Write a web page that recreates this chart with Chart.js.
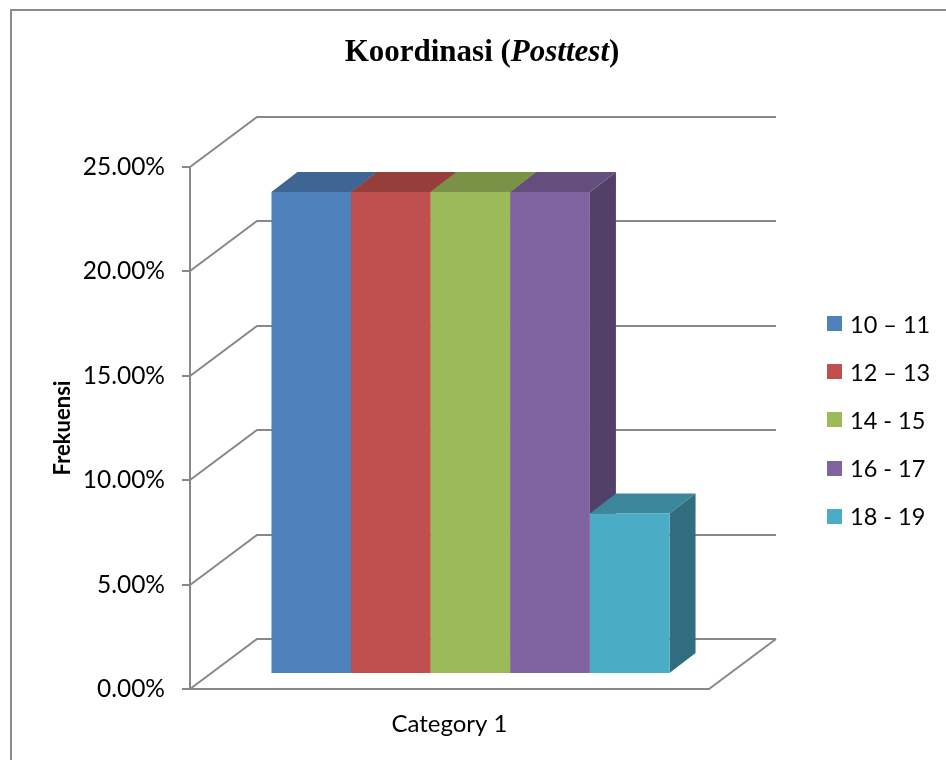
<!DOCTYPE html>
<html><head><meta charset="utf-8">
<script src="https://cdn.jsdelivr.net/npm/chart.js@4"></script>
<style>
html,body{margin:0;padding:0;background:#fff;overflow:hidden;}
#wrap{position:relative;width:946px;height:760px;}
#frame{position:absolute;left:10px;top:9px;width:960px;height:790px;border:2px solid #8c8c8c;box-sizing:border-box;}
#c{position:absolute;left:0;top:0;}
#title{position:absolute;left:9px;width:946px;top:33px;text-align:center;font-family:"Liberation Serif","Times New Roman",serif;font-weight:bold;font-size:31px;line-height:36px;color:#000;}
#legend{position:absolute;left:827px;top:0;font-family:Lato,sans-serif;font-size:23.5px;color:#000;}
#legend .it{position:absolute;left:0;height:30px;display:flex;align-items:center;white-space:nowrap;}
#legend .sw{display:inline-block;width:15px;height:15px;margin-right:8px;}
</style>
</head><body>
<div id="wrap">
<div id="frame"></div>
<canvas id="c" width="946" height="760"></canvas>
<div id="title">Koordinasi (<i>Posttest</i>)</div>
<div id="legend"></div>
</div>
<script>
// ---- data ----
const categories = ['Category 1'];
const seriesNames = ['10 – 11', '12 – 13', '14 - 15', '16 - 17', '18 - 19'];
const seriesValues = [
  [0.2308],
  [0.2308],
  [0.2308],
  [0.2308],
  [0.0769]
];
const yTickLabels = ['0.00%', '5.00%', '10.00%', '15.00%', '20.00%', '25.00%'];
const yAxisTitle = 'Frekuensi';

// ---- styles ----
const palette = ['#4F81BD', '#C0504D', '#9BBB59', '#8064A2', '#4BACC6'];
const lineColor = '#888888';

function shade(hex, f) {
  const n = parseInt(hex.slice(1), 16);
  const r = Math.round(((n >> 16) & 255) * f), g = Math.round(((n >> 8) & 255) * f), b = Math.round((n & 255) * f);
  return `rgb(${r},${g},${b})`;
}

// legend (HTML, real text)
const legendEl = document.getElementById('legend');
const legendTops = [323.5, 371.7, 419.9, 468.1, 516.3];
seriesNames.forEach((name, i) => {
  const d = document.createElement('div');
  d.className = 'it';
  d.style.top = (legendTops[i] - 15) + 'px';
  d.innerHTML = `<span class="sw" style="background:${palette[i]}"></span><span>${name}</span>`;
  legendEl.appendChild(d);
});

const WALL_DX = 67, WALL_DY = -50;   // full depth of the 3D walls
const BAR_DX = 21, BAR_DY = -15;     // bar front plane offset
const BAR_DEPTH_X = 26, BAR_DEPTH_Y = -20;

const threeD = {
  id: 'threeD',
  beforeDatasetsDraw(chart) {
    const ctx = chart.ctx;
    const y = chart.scales.y, area = chart.chartArea;
    ctx.save();
    ctx.strokeStyle = lineColor;
    ctx.lineWidth = 2;
    ctx.lineCap = 'butt';
    y.ticks.forEach(t => {
      const py = Math.round(y.getPixelForValue(t.value));
      ctx.beginPath();
      ctx.moveTo(area.left, py);
      ctx.lineTo(area.left + WALL_DX, py + WALL_DY);
      ctx.lineTo(area.right + WALL_DX, py + WALL_DY);
      ctx.stroke();
    });
    const p0 = Math.round(y.getPixelForValue(0));
    ctx.beginPath();
    ctx.moveTo(area.right, p0);
    ctx.lineTo(area.right + WALL_DX, p0 + WALL_DY);
    ctx.stroke();
    ctx.restore();

    // bars: side & top faces, then the library's own front face
    ctx.save();
    ctx.translate(BAR_DX, BAR_DY);
    chart.data.datasets.forEach((ds, i) => {
      const meta = chart.getDatasetMeta(i);
      meta.data.forEach(el => {
        const p = el.getProps(['x', 'y', 'base', 'width'], true);
        const x0 = p.x - p.width / 2, x1 = p.x + p.width / 2;
        const top = p.y, base = p.base;
        ctx.fillStyle = shade(palette[i], 0.64);
        ctx.beginPath();
        ctx.moveTo(x1, top);
        ctx.lineTo(x1 + BAR_DEPTH_X, top + BAR_DEPTH_Y);
        ctx.lineTo(x1 + BAR_DEPTH_X, base + BAR_DEPTH_Y);
        ctx.lineTo(x1, base);
        ctx.closePath();
        ctx.fill();
        ctx.fillStyle = shade(palette[i], 0.78);
        ctx.beginPath();
        ctx.moveTo(x0, top);
        ctx.lineTo(x1, top);
        ctx.lineTo(x1 + BAR_DEPTH_X, top + BAR_DEPTH_Y);
        ctx.lineTo(x0 + BAR_DEPTH_X, top + BAR_DEPTH_Y);
        ctx.closePath();
        ctx.fill();
        el.draw(ctx, area);
      });
    });
    ctx.restore();
    return false;
  }
};

new Chart(document.getElementById('c'), {
  type: 'bar',
  data: {
    labels: categories,
    datasets: seriesNames.map((name, i) => ({
      label: name,
      data: seriesValues[i],
      backgroundColor: palette[i],
      borderWidth: 0,
      barPercentage: 1,
      categoryPercentage: 0.767
    }))
  },
  plugins: [threeD],
  options: {
    responsive: false,
    animation: false,
    devicePixelRatio: 1,
    layout: { padding: { left: 0, top: 167, right: 237, bottom: 0 } },
    plugins: { legend: { display: false }, title: { display: false }, tooltip: { enabled: false } },
    scales: {
      x: {
        grid: { display: false, drawTicks: false },
        border: { display: true, color: lineColor, width: 2 },
        ticks: { color: '#000', font: { family: 'Lato', size: 24 }, padding: 21 },
        afterFit(s) { s.height = 71; }
      },
      y: {
        min: 0, max: 0.25,
        ticks: {
          stepSize: 0.05,
          color: '#000',
          font: { family: 'Lato', size: 24.5 },
          padding: 17,
          callback: (v, i) => yTickLabels[i]
        },
        grid: { drawOnChartArea: false, drawTicks: true, tickLength: 8, color: lineColor, lineWidth: 2 },
        border: { display: true, color: lineColor, width: 2 },
        title: {
          display: true, text: yAxisTitle, color: '#000',
          font: { family: 'Lato', size: 22, weight: 'bold' },
          padding: { top: 50, bottom: 0 }
        },
        afterFit(s) { s.width = 190; }
      }
    }
  }
});
</script>
</body></html>
